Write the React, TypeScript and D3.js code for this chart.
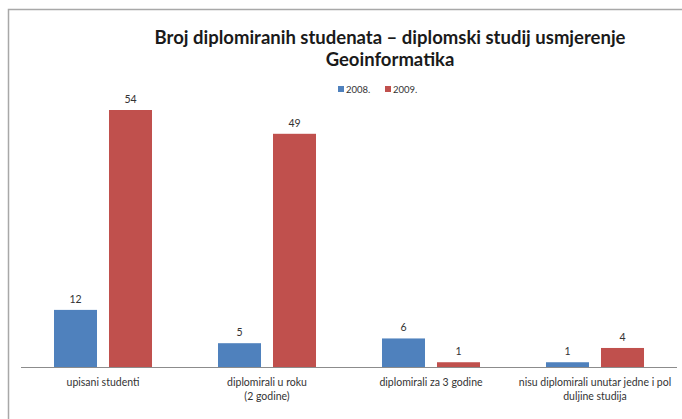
import React from "react";
import * as d3 from "d3";

const categories: string[][] = [
  ["upisani studenti"],
  ["diplomirali u roku", "(2 godine)"],
  ["diplomirali za 3 godine"],
  ["nisu diplomirali unutar jedne i pol", "duljine studija"],
];
const seriesNames = ["2008.", "2009."];
const values2008 = [12, 5, 6, 1];
const values2009 = [54, 49, 1, 4];
const colors = ["#4F81BD", "#C0504D"];
const titleLines = ["Broj diplomiranih studenata – diplomski studij usmjerenje", "Geoinformatika"];

const W = 682;
const H = 419;
const FONT = "Lato, 'Open Sans', sans-serif";

export default function App() {
  const x0 = d3
    .scaleBand<number>()
    .domain(d3.range(categories.length))
    .range([21, 677])
    .paddingInner(0)
    .paddingOuter(0);
  const x1 = d3.scaleBand<number>().domain([0, 1]).range([0, x0.bandwidth()]).paddingInner(0.218).paddingOuter(0.6);
  const y = d3.scaleLinear().domain([0, 54]).range([367, 110]);
  const series = [values2008, values2009];

  return (
    <svg width={W} height={H} style={{ position: "absolute", left: 0, top: 0, background: "#fff" }}>
      <rect x={8.5} y={9.5} width={W} height={H} fill="#fff" stroke="#a8a8a8" strokeWidth={1.5} />
      {titleLines.map((t, i) => (
        <text
          key={i}
          x={390}
          y={44 + i * 22}
          textAnchor="middle"
          fontFamily={FONT}
          fontWeight={700}
          fontSize={18.5}
          fill="#1a1a1a"
        >
          {t}
        </text>
      ))}
      {seriesNames.map((s, i) => (
        <g key={s} transform={`translate(${338 + i * 47},${86})`}>
          <rect x={0} y={0} width={6} height={6} fill={colors[i]} />
          <text x={8} y={6.5} fontFamily={FONT} fontSize={9.5} fill="#333">
            {s}
          </text>
        </g>
      ))}
      {categories.map((c, ci) => (
        <g key={ci} transform={`translate(${x0(ci)},0)`}>
          {series.map((vals, si) => {
            const v = vals[ci];
            const bx = x1(si)!;
            return (
              <g key={si}>
                <rect x={bx} y={y(v)} width={x1.bandwidth()} height={y(0) - y(v)} fill={colors[si]} />
                <text
                  x={bx + x1.bandwidth() / 2}
                  y={y(v) - 7}
                  textAnchor="middle"
                  fontFamily={FONT}
                  fontSize={10.5}
                  fill="#333"
                >
                  {v}
                </text>
              </g>
            );
          })}
          {c.map((line, li) => (
            <text
              key={li}
              x={x0.bandwidth() / 2}
              y={386 + li * 14}
              textAnchor="middle"
              fontFamily={FONT}
              fontSize={10.5}
              fill="#333"
            >
              {line}
            </text>
          ))}
        </g>
      ))}
      <line x1={21} x2={677} y1={367.5} y2={367.5} stroke="#8c8c8c" strokeWidth={1} />
    </svg>
  );
}
